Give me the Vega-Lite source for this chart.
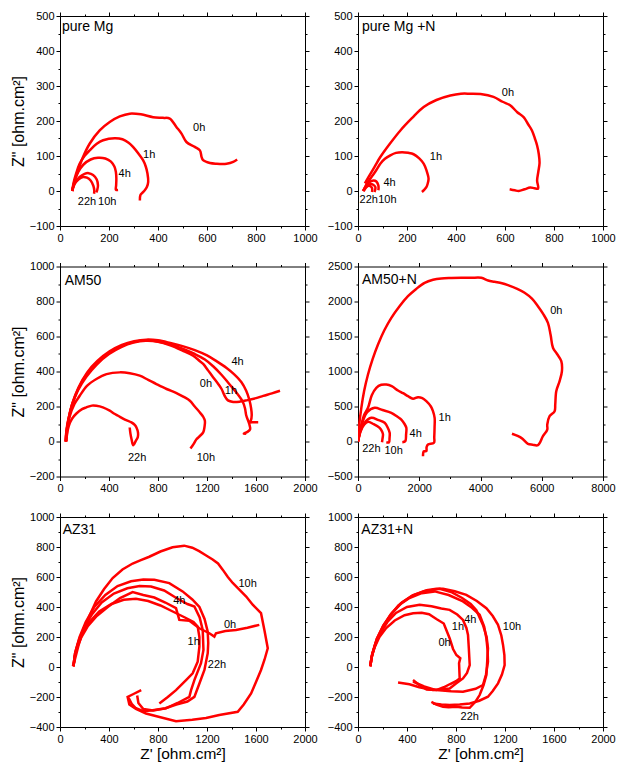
{
"$schema":"https://vega.github.io/schema/vega-lite/v6.json",
"padding":{"left":10,"top":10,"right":2,"bottom":2},
"background":"white",
"config":{"view":{"stroke":null},"font":"Liberation Sans",
 "axis":{"labelFont":"Liberation Sans","labelFontSize":11,"labelColor":"black","tickColor":"black","domainColor":"black","tickSize":4,"labelPadding":2,"grid":false,"titleFont":"Liberation Sans","titleFontWeight":"normal","titleColor":"black","labelFlush":false,"labelOverlap":false,"format":"d"},
 "text":{"font":"Liberation Sans","color":"black"}},
"datasets":{
"c":[
{"p":"A","s":"0h","x":50,"y":0},{"p":"A","s":"0h","x":60,"y":30},{"p":"A","s":"0h","x":74,"y":59},{"p":"A","s":"0h","x":94,"y":97},{"p":"A","s":"0h","x":121,"y":135},{"p":"A","s":"0h","x":162,"y":173},{"p":"A","s":"0h","x":203,"y":197},{"p":"A","s":"0h","x":244,"y":213},{"p":"A","s":"0h","x":285,"y":221},{"p":"A","s":"0h","x":330,"y":219},{"p":"A","s":"0h","x":380,"y":211},{"p":"A","s":"0h","x":420,"y":209},{"p":"A","s":"0h","x":448,"y":207},{"p":"A","s":"0h","x":475,"y":183},{"p":"A","s":"0h","x":496,"y":164},{"p":"A","s":"0h","x":516,"y":140},{"p":"A","s":"0h","x":550,"y":126},{"p":"A","s":"0h","x":571,"y":116},{"p":"A","s":"0h","x":578,"y":97},{"p":"A","s":"0h","x":584,"y":88},{"p":"A","s":"0h","x":612,"y":80},{"p":"A","s":"0h","x":639,"y":78},{"p":"A","s":"0h","x":680,"y":78},{"p":"A","s":"0h","x":707,"y":83},{"p":"A","s":"0h","x":723,"y":90},
{"p":"A","s":"1h","x":50,"y":0},{"p":"A","s":"1h","x":56,"y":25},{"p":"A","s":"1h","x":66,"y":50},{"p":"A","s":"1h","x":80,"y":78},{"p":"A","s":"1h","x":100,"y":100},{"p":"A","s":"1h","x":121,"y":116},{"p":"A","s":"1h","x":150,"y":135},{"p":"A","s":"1h","x":176,"y":145},{"p":"A","s":"1h","x":223,"y":151},{"p":"A","s":"1h","x":255,"y":148},{"p":"A","s":"1h","x":280,"y":138},{"p":"A","s":"1h","x":298,"y":126},{"p":"A","s":"1h","x":320,"y":107},{"p":"A","s":"1h","x":339,"y":88},{"p":"A","s":"1h","x":350,"y":70},{"p":"A","s":"1h","x":357,"y":50},{"p":"A","s":"1h","x":360,"y":26},{"p":"A","s":"1h","x":355,"y":12},{"p":"A","s":"1h","x":346,"y":2},{"p":"A","s":"1h","x":335,"y":-6},{"p":"A","s":"1h","x":328,"y":-12},{"p":"A","s":"1h","x":326,"y":-27},
{"p":"A","s":"4h","x":50,"y":0},{"p":"A","s":"4h","x":58,"y":25},{"p":"A","s":"4h","x":74,"y":54},{"p":"A","s":"4h","x":95,"y":75},{"p":"A","s":"4h","x":125,"y":90},{"p":"A","s":"4h","x":155,"y":95},{"p":"A","s":"4h","x":185,"y":93},{"p":"A","s":"4h","x":208,"y":84},{"p":"A","s":"4h","x":222,"y":70},{"p":"A","s":"4h","x":228,"y":55},{"p":"A","s":"4h","x":230,"y":35},{"p":"A","s":"4h","x":229,"y":15},{"p":"A","s":"4h","x":228,"y":4},{"p":"A","s":"4h","x":237,"y":3},
{"p":"A","s":"10h","x":50,"y":0},{"p":"A","s":"10h","x":60,"y":22},{"p":"A","s":"10h","x":80,"y":40},{"p":"A","s":"10h","x":100,"y":49},{"p":"A","s":"10h","x":117,"y":51},{"p":"A","s":"10h","x":135,"y":46},{"p":"A","s":"10h","x":150,"y":33},{"p":"A","s":"10h","x":155,"y":16},{"p":"A","s":"10h","x":152,"y":3},{"p":"A","s":"10h","x":148,"y":-4},
{"p":"A","s":"22h","x":50,"y":0},{"p":"A","s":"22h","x":58,"y":18},{"p":"A","s":"22h","x":75,"y":33},{"p":"A","s":"22h","x":94,"y":40},{"p":"A","s":"22h","x":110,"y":38},{"p":"A","s":"22h","x":125,"y":30},{"p":"A","s":"22h","x":136,"y":15},{"p":"A","s":"22h","x":140,"y":2},{"p":"A","s":"22h","x":139,"y":-8},
{"p":"B","s":"0h","x":28,"y":22},{"p":"B","s":"0h","x":50,"y":48},{"p":"B","s":"0h","x":70,"y":72},{"p":"B","s":"0h","x":91,"y":97},{"p":"B","s":"0h","x":130,"y":135},{"p":"B","s":"0h","x":173,"y":173},{"p":"B","s":"0h","x":220,"y":208},{"p":"B","s":"0h","x":268,"y":240},{"p":"B","s":"0h","x":320,"y":260},{"p":"B","s":"0h","x":377,"y":273},{"p":"B","s":"0h","x":420,"y":278},{"p":"B","s":"0h","x":458,"y":278},{"p":"B","s":"0h","x":500,"y":277},{"p":"B","s":"0h","x":553,"y":269},{"p":"B","s":"0h","x":590,"y":255},{"p":"B","s":"0h","x":621,"y":245},{"p":"B","s":"0h","x":650,"y":225},{"p":"B","s":"0h","x":676,"y":211},{"p":"B","s":"0h","x":695,"y":190},{"p":"B","s":"0h","x":710,"y":173},{"p":"B","s":"0h","x":722,"y":150},{"p":"B","s":"0h","x":731,"y":130},{"p":"B","s":"0h","x":738,"y":105},{"p":"B","s":"0h","x":741,"y":80},{"p":"B","s":"0h","x":736,"y":55},{"p":"B","s":"0h","x":731,"y":30},{"p":"B","s":"0h","x":735,"y":7},{"p":"B","s":"0h","x":720,"y":8},{"p":"B","s":"0h","x":703,"y":10},{"p":"B","s":"0h","x":680,"y":5},{"p":"B","s":"0h","x":656,"y":0},{"p":"B","s":"0h","x":640,"y":2},{"p":"B","s":"0h","x":619,"y":5},
{"p":"B","s":"1h","x":22,"y":0},{"p":"B","s":"1h","x":35,"y":20},{"p":"B","s":"1h","x":55,"y":40},{"p":"B","s":"1h","x":75,"y":60},{"p":"B","s":"1h","x":91,"y":78},{"p":"B","s":"1h","x":110,"y":92},{"p":"B","s":"1h","x":132,"y":102},{"p":"B","s":"1h","x":155,"y":109},{"p":"B","s":"1h","x":180,"y":111},{"p":"B","s":"1h","x":205,"y":109},{"p":"B","s":"1h","x":227,"y":105},{"p":"B","s":"1h","x":250,"y":93},{"p":"B","s":"1h","x":268,"y":78},{"p":"B","s":"1h","x":280,"y":58},{"p":"B","s":"1h","x":288,"y":35},{"p":"B","s":"1h","x":284,"y":20},{"p":"B","s":"1h","x":279,"y":11},{"p":"B","s":"1h","x":270,"y":3},{"p":"B","s":"1h","x":261,"y":-3},
{"p":"B","s":"4h","x":23,"y":0},{"p":"B","s":"4h","x":30,"y":12},{"p":"B","s":"4h","x":45,"y":25},{"p":"B","s":"4h","x":64,"y":30},{"p":"B","s":"4h","x":75,"y":27},{"p":"B","s":"4h","x":83,"y":16},{"p":"B","s":"4h","x":84,"y":8},{"p":"B","s":"4h","x":83,"y":2},
{"p":"B","s":"10h","x":23,"y":0},{"p":"B","s":"10h","x":35,"y":12},{"p":"B","s":"10h","x":50,"y":20},{"p":"B","s":"10h","x":62,"y":18},{"p":"B","s":"10h","x":71,"y":11},{"p":"B","s":"10h","x":70,"y":3},{"p":"B","s":"10h","x":67,"y":-3},
{"p":"B","s":"22h","x":20,"y":0},{"p":"B","s":"22h","x":28,"y":8},{"p":"B","s":"22h","x":39,"y":14},{"p":"B","s":"22h","x":50,"y":14},{"p":"B","s":"22h","x":57,"y":9},{"p":"B","s":"22h","x":58,"y":2},{"p":"B","s":"22h","x":57,"y":-3},
{"p":"C","s":"0h","x":46,"y":0},{"p":"C","s":"0h","x":52,"y":60},{"p":"C","s":"0h","x":66,"y":120},{"p":"C","s":"0h","x":95,"y":200},{"p":"C","s":"0h","x":145,"y":290},{"p":"C","s":"0h","x":215,"y":370},{"p":"C","s":"0h","x":300,"y":440},{"p":"C","s":"0h","x":400,"y":500},{"p":"C","s":"0h","x":500,"y":540},{"p":"C","s":"0h","x":600,"y":565},{"p":"C","s":"0h","x":700,"y":575},{"p":"C","s":"0h","x":800,"y":570},{"p":"C","s":"0h","x":900,"y":550},{"p":"C","s":"0h","x":1000,"y":520},{"p":"C","s":"0h","x":1087,"y":490},{"p":"C","s":"0h","x":1140,"y":460},{"p":"C","s":"0h","x":1169,"y":443},{"p":"C","s":"0h","x":1210,"y":405},{"p":"C","s":"0h","x":1251,"y":366},{"p":"C","s":"0h","x":1290,"y":330},{"p":"C","s":"0h","x":1319,"y":300},{"p":"C","s":"0h","x":1345,"y":260},{"p":"C","s":"0h","x":1371,"y":235},{"p":"C","s":"0h","x":1414,"y":226},{"p":"C","s":"0h","x":1470,"y":228},{"p":"C","s":"0h","x":1523,"y":235},{"p":"C","s":"0h","x":1600,"y":248},{"p":"C","s":"0h","x":1659,"y":261},{"p":"C","s":"0h","x":1730,"y":275},{"p":"C","s":"0h","x":1796,"y":290},
{"p":"C","s":"1h","x":46,"y":0},{"p":"C","s":"1h","x":54,"y":60},{"p":"C","s":"1h","x":70,"y":130},{"p":"C","s":"1h","x":98,"y":210},{"p":"C","s":"1h","x":148,"y":300},{"p":"C","s":"1h","x":218,"y":385},{"p":"C","s":"1h","x":300,"y":450},{"p":"C","s":"1h","x":400,"y":505},{"p":"C","s":"1h","x":500,"y":545},{"p":"C","s":"1h","x":600,"y":568},{"p":"C","s":"1h","x":700,"y":578},{"p":"C","s":"1h","x":800,"y":572},{"p":"C","s":"1h","x":900,"y":555},{"p":"C","s":"1h","x":1000,"y":530},{"p":"C","s":"1h","x":1100,"y":500},{"p":"C","s":"1h","x":1180,"y":470},{"p":"C","s":"1h","x":1250,"y":430},{"p":"C","s":"1h","x":1320,"y":380},{"p":"C","s":"1h","x":1380,"y":330},{"p":"C","s":"1h","x":1440,"y":280},{"p":"C","s":"1h","x":1490,"y":230},{"p":"C","s":"1h","x":1510,"y":190},{"p":"C","s":"1h","x":1520,"y":150},{"p":"C","s":"1h","x":1545,"y":100},{"p":"C","s":"1h","x":1552,"y":70},{"p":"C","s":"1h","x":1530,"y":55},{"p":"C","s":"1h","x":1500,"y":45},{"p":"C","s":"1h","x":1520,"y":45},
{"p":"C","s":"4h","x":46,"y":0},{"p":"C","s":"4h","x":56,"y":70},{"p":"C","s":"4h","x":74,"y":140},{"p":"C","s":"4h","x":102,"y":220},{"p":"C","s":"4h","x":152,"y":310},{"p":"C","s":"4h","x":222,"y":395},{"p":"C","s":"4h","x":305,"y":460},{"p":"C","s":"4h","x":405,"y":515},{"p":"C","s":"4h","x":505,"y":552},{"p":"C","s":"4h","x":605,"y":573},{"p":"C","s":"4h","x":705,"y":582},{"p":"C","s":"4h","x":800,"y":578},{"p":"C","s":"4h","x":900,"y":563},{"p":"C","s":"4h","x":1000,"y":545},{"p":"C","s":"4h","x":1100,"y":522},{"p":"C","s":"4h","x":1200,"y":492},{"p":"C","s":"4h","x":1280,"y":458},{"p":"C","s":"4h","x":1360,"y":420},{"p":"C","s":"4h","x":1420,"y":385},{"p":"C","s":"4h","x":1480,"y":340},{"p":"C","s":"4h","x":1520,"y":290},{"p":"C","s":"4h","x":1545,"y":240},{"p":"C","s":"4h","x":1560,"y":190},{"p":"C","s":"4h","x":1565,"y":150},{"p":"C","s":"4h","x":1558,"y":120},{"p":"C","s":"4h","x":1545,"y":110},{"p":"C","s":"4h","x":1580,"y":110},{"p":"C","s":"4h","x":1618,"y":110},
{"p":"C","s":"10h","x":52,"y":0},{"p":"C","s":"10h","x":58,"y":60},{"p":"C","s":"10h","x":78,"y":140},{"p":"C","s":"10h","x":118,"y":215},{"p":"C","s":"10h","x":161,"y":261},{"p":"C","s":"10h","x":220,"y":318},{"p":"C","s":"10h","x":297,"y":357},{"p":"C","s":"10h","x":380,"y":385},{"p":"C","s":"10h","x":488,"y":395},{"p":"C","s":"10h","x":570,"y":390},{"p":"C","s":"10h","x":651,"y":376},{"p":"C","s":"10h","x":720,"y":352},{"p":"C","s":"10h","x":787,"y":328},{"p":"C","s":"10h","x":870,"y":300},{"p":"C","s":"10h","x":951,"y":277},{"p":"C","s":"10h","x":1010,"y":255},{"p":"C","s":"10h","x":1060,"y":233},{"p":"C","s":"10h","x":1100,"y":200},{"p":"C","s":"10h","x":1142,"y":166},{"p":"C","s":"10h","x":1170,"y":140},{"p":"C","s":"10h","x":1183,"y":118},{"p":"C","s":"10h","x":1180,"y":85},{"p":"C","s":"10h","x":1169,"y":52},{"p":"C","s":"10h","x":1140,"y":30},{"p":"C","s":"10h","x":1114,"y":13},{"p":"C","s":"10h","x":1090,"y":-15},{"p":"C","s":"10h","x":1065,"y":-40},
{"p":"C","s":"22h","x":52,"y":0},{"p":"C","s":"22h","x":57,"y":40},{"p":"C","s":"22h","x":72,"y":90},{"p":"C","s":"22h","x":98,"y":130},{"p":"C","s":"22h","x":134,"y":160},{"p":"C","s":"22h","x":180,"y":185},{"p":"C","s":"22h","x":215,"y":195},{"p":"C","s":"22h","x":260,"y":205},{"p":"C","s":"22h","x":297,"y":204},{"p":"C","s":"22h","x":350,"y":195},{"p":"C","s":"22h","x":406,"y":176},{"p":"C","s":"22h","x":440,"y":160},{"p":"C","s":"22h","x":474,"y":147},{"p":"C","s":"22h","x":530,"y":125},{"p":"C","s":"22h","x":583,"y":109},{"p":"C","s":"22h","x":610,"y":95},{"p":"C","s":"22h","x":624,"y":80},{"p":"C","s":"22h","x":637,"y":50},{"p":"C","s":"22h","x":635,"y":25},{"p":"C","s":"22h","x":620,"y":5},{"p":"C","s":"22h","x":597,"y":-21},{"p":"C","s":"22h","x":585,"y":10},{"p":"C","s":"22h","x":575,"y":45},{"p":"C","s":"22h","x":569,"y":80},
{"p":"D","s":"0h","x":0,"y":0},{"p":"D","s":"0h","x":30,"y":200},{"p":"D","s":"0h","x":109,"y":481},{"p":"D","s":"0h","x":200,"y":720},{"p":"D","s":"0h","x":326,"y":957},{"p":"D","s":"0h","x":480,"y":1180},{"p":"D","s":"0h","x":653,"y":1386},{"p":"D","s":"0h","x":860,"y":1590},{"p":"D","s":"0h","x":1088,"y":1767},{"p":"D","s":"0h","x":1350,"y":1930},{"p":"D","s":"0h","x":1632,"y":2076},{"p":"D","s":"0h","x":1900,"y":2180},{"p":"D","s":"0h","x":2176,"y":2267},{"p":"D","s":"0h","x":2450,"y":2310},{"p":"D","s":"0h","x":2720,"y":2329},{"p":"D","s":"0h","x":3050,"y":2335},{"p":"D","s":"0h","x":3373,"y":2338},{"p":"D","s":"0h","x":3700,"y":2338},{"p":"D","s":"0h","x":4026,"y":2338},{"p":"D","s":"0h","x":4250,"y":2300},{"p":"D","s":"0h","x":4461,"y":2281},{"p":"D","s":"0h","x":4700,"y":2260},{"p":"D","s":"0h","x":4896,"y":2233},{"p":"D","s":"0h","x":5200,"y":2180},{"p":"D","s":"0h","x":5440,"y":2124},{"p":"D","s":"0h","x":5680,"y":2040},{"p":"D","s":"0h","x":5875,"y":1933},{"p":"D","s":"0h","x":6050,"y":1820},{"p":"D","s":"0h","x":6202,"y":1695},{"p":"D","s":"0h","x":6290,"y":1520},{"p":"D","s":"0h","x":6366,"y":1338},{"p":"D","s":"0h","x":6500,"y":1250},{"p":"D","s":"0h","x":6638,"y":1148},{"p":"D","s":"0h","x":6659,"y":1005},{"p":"D","s":"0h","x":6583,"y":862},{"p":"D","s":"0h","x":6474,"y":719},{"p":"D","s":"0h","x":6441,"y":529},{"p":"D","s":"0h","x":6420,"y":433},{"p":"D","s":"0h","x":6256,"y":362},{"p":"D","s":"0h","x":6180,"y":243},{"p":"D","s":"0h","x":6180,"y":171},{"p":"D","s":"0h","x":6039,"y":76},{"p":"D","s":"0h","x":5875,"y":-52},{"p":"D","s":"0h","x":5700,"y":-45},{"p":"D","s":"0h","x":5549,"y":-33},{"p":"D","s":"0h","x":5332,"y":52},{"p":"D","s":"0h","x":5027,"y":110},
{"p":"D","s":"1h","x":0,"y":0},{"p":"D","s":"1h","x":100,"y":220},{"p":"D","s":"1h","x":200,"y":380},{"p":"D","s":"1h","x":326,"y":481},{"p":"D","s":"1h","x":450,"y":660},{"p":"D","s":"1h","x":598,"y":767},{"p":"D","s":"1h","x":760,"y":810},{"p":"D","s":"1h","x":925,"y":814},{"p":"D","s":"1h","x":1100,"y":790},{"p":"D","s":"1h","x":1306,"y":729},{"p":"D","s":"1h","x":1470,"y":690},{"p":"D","s":"1h","x":1632,"y":648},{"p":"D","s":"1h","x":1795,"y":610},{"p":"D","s":"1h","x":1958,"y":633},{"p":"D","s":"1h","x":2100,"y":620},{"p":"D","s":"1h","x":2231,"y":576},{"p":"D","s":"1h","x":2380,"y":500},{"p":"D","s":"1h","x":2448,"y":433},{"p":"D","s":"1h","x":2502,"y":338},{"p":"D","s":"1h","x":2500,"y":200},{"p":"D","s":"1h","x":2490,"y":60},{"p":"D","s":"1h","x":2480,"y":-19},{"p":"D","s":"1h","x":2285,"y":-43},{"p":"D","s":"1h","x":2240,"y":-80},{"p":"D","s":"1h","x":2231,"y":-138},{"p":"D","s":"1h","x":2150,"y":-140},{"p":"D","s":"1h","x":2122,"y":-210},
{"p":"D","s":"4h","x":0,"y":0},{"p":"D","s":"4h","x":60,"y":130},{"p":"D","s":"4h","x":150,"y":280},{"p":"D","s":"4h","x":300,"y":420},{"p":"D","s":"4h","x":544,"y":481},{"p":"D","s":"4h","x":800,"y":450},{"p":"D","s":"4h","x":1088,"y":410},{"p":"D","s":"4h","x":1300,"y":350},{"p":"D","s":"4h","x":1414,"y":314},{"p":"D","s":"4h","x":1520,"y":250},{"p":"D","s":"4h","x":1578,"y":195},{"p":"D","s":"4h","x":1570,"y":100},{"p":"D","s":"4h","x":1545,"y":5},{"p":"D","s":"4h","x":1447,"y":-10},
{"p":"D","s":"10h","x":0,"y":0},{"p":"D","s":"10h","x":80,"y":150},{"p":"D","s":"10h","x":200,"y":260},{"p":"D","s":"10h","x":435,"y":338},{"p":"D","s":"10h","x":650,"y":310},{"p":"D","s":"10h","x":871,"y":267},{"p":"D","s":"10h","x":980,"y":190},{"p":"D","s":"10h","x":1034,"y":124},{"p":"D","s":"10h","x":1030,"y":50},{"p":"D","s":"10h","x":1012,"y":-10},{"p":"D","s":"10h","x":925,"y":-10},
{"p":"D","s":"22h","x":0,"y":0},{"p":"D","s":"22h","x":80,"y":140},{"p":"D","s":"22h","x":200,"y":240},{"p":"D","s":"22h","x":326,"y":281},{"p":"D","s":"22h","x":500,"y":250},{"p":"D","s":"22h","x":707,"y":195},{"p":"D","s":"22h","x":790,"y":140},{"p":"D","s":"22h","x":816,"y":100},{"p":"D","s":"22h","x":800,"y":40},{"p":"D","s":"22h","x":784,"y":-10},
{"p":"E","s":"0h","x":110,"y":5},{"p":"E","s":"0h","x":118,"y":60},{"p":"E","s":"0h","x":140,"y":130},{"p":"E","s":"0h","x":175,"y":200},{"p":"E","s":"0h","x":225,"y":270},{"p":"E","s":"0h","x":300,"y":340},{"p":"E","s":"0h","x":390,"y":400},{"p":"E","s":"0h","x":490,"y":460},{"p":"E","s":"0h","x":593,"y":499},{"p":"E","s":"0h","x":680,"y":480},{"p":"E","s":"0h","x":770,"y":463},{"p":"E","s":"0h","x":860,"y":430},{"p":"E","s":"0h","x":947,"y":392},{"p":"E","s":"0h","x":974,"y":314},{"p":"E","s":"0h","x":1056,"y":308},{"p":"E","s":"0h","x":1137,"y":258},{"p":"E","s":"0h","x":1219,"y":225},{"p":"E","s":"0h","x":1260,"y":203},{"p":"E","s":"0h","x":1273,"y":225},{"p":"E","s":"0h","x":1350,"y":240},{"p":"E","s":"0h","x":1437,"y":247},{"p":"E","s":"0h","x":1530,"y":262},{"p":"E","s":"0h","x":1627,"y":281},
{"p":"E","s":"1h","x":110,"y":5},{"p":"E","s":"1h","x":120,"y":70},{"p":"E","s":"1h","x":145,"y":150},{"p":"E","s":"1h","x":185,"y":230},{"p":"E","s":"1h","x":240,"y":300},{"p":"E","s":"1h","x":320,"y":370},{"p":"E","s":"1h","x":420,"y":420},{"p":"E","s":"1h","x":520,"y":448},{"p":"E","s":"1h","x":620,"y":455},{"p":"E","s":"1h","x":720,"y":440},{"p":"E","s":"1h","x":820,"y":410},{"p":"E","s":"1h","x":920,"y":370},{"p":"E","s":"1h","x":1020,"y":330},{"p":"E","s":"1h","x":1090,"y":300},{"p":"E","s":"1h","x":1124,"y":270},{"p":"E","s":"1h","x":1138,"y":200},{"p":"E","s":"1h","x":1138,"y":136},{"p":"E","s":"1h","x":1124,"y":35},{"p":"E","s":"1h","x":1083,"y":-42},{"p":"E","s":"1h","x":1029,"y":-87},{"p":"E","s":"1h","x":947,"y":-154},{"p":"E","s":"1h","x":880,"y":-200},{"p":"E","s":"1h","x":811,"y":-243},
{"p":"E","s":"4h","x":110,"y":5},{"p":"E","s":"4h","x":122,"y":90},{"p":"E","s":"4h","x":155,"y":180},{"p":"E","s":"4h","x":200,"y":270},{"p":"E","s":"4h","x":260,"y":350},{"p":"E","s":"4h","x":340,"y":430},{"p":"E","s":"4h","x":440,"y":490},{"p":"E","s":"4h","x":550,"y":525},{"p":"E","s":"4h","x":650,"y":540},{"p":"E","s":"4h","x":743,"y":537},{"p":"E","s":"4h","x":850,"y":510},{"p":"E","s":"4h","x":950,"y":460},{"p":"E","s":"4h","x":1040,"y":420},{"p":"E","s":"4h","x":1097,"y":403},{"p":"E","s":"4h","x":1140,"y":330},{"p":"E","s":"4h","x":1165,"y":247},{"p":"E","s":"4h","x":1171,"y":114},{"p":"E","s":"4h","x":1151,"y":25},{"p":"E","s":"4h","x":1097,"y":-87},{"p":"E","s":"4h","x":1070,"y":-154},{"p":"E","s":"4h","x":1056,"y":-199},{"p":"E","s":"4h","x":960,"y":-240},{"p":"E","s":"4h","x":865,"y":-276},{"p":"E","s":"4h","x":760,"y":-290},{"p":"E","s":"4h","x":680,"y":-280},{"p":"E","s":"4h","x":640,"y":-240},{"p":"E","s":"4h","x":630,"y":-190},
{"p":"E","s":"22h","x":110,"y":5},{"p":"E","s":"22h","x":125,"y":100},{"p":"E","s":"22h","x":160,"y":200},{"p":"E","s":"22h","x":210,"y":300},{"p":"E","s":"22h","x":280,"y":400},{"p":"E","s":"22h","x":370,"y":480},{"p":"E","s":"22h","x":470,"y":540},{"p":"E","s":"22h","x":580,"y":572},{"p":"E","s":"22h","x":680,"y":583},{"p":"E","s":"22h","x":770,"y":581},{"p":"E","s":"22h","x":892,"y":559},{"p":"E","s":"22h","x":1001,"y":504},{"p":"E","s":"22h","x":1080,"y":450},{"p":"E","s":"22h","x":1138,"y":400},{"p":"E","s":"22h","x":1180,"y":320},{"p":"E","s":"22h","x":1206,"y":236},{"p":"E","s":"22h","x":1210,"y":160},{"p":"E","s":"22h","x":1206,"y":92},{"p":"E","s":"22h","x":1179,"y":-20},{"p":"E","s":"22h","x":1138,"y":-110},{"p":"E","s":"22h","x":1097,"y":-199},{"p":"E","s":"22h","x":1040,"y":-230},{"p":"E","s":"22h","x":950,"y":-250},{"p":"E","s":"22h","x":860,"y":-275},{"p":"E","s":"22h","x":757,"y":-288},{"p":"E","s":"22h","x":680,"y":-295},{"p":"E","s":"22h","x":620,"y":-275},{"p":"E","s":"22h","x":585,"y":-245},{"p":"E","s":"22h","x":560,"y":-205},
{"p":"E","s":"10h","x":105,"y":5},{"p":"E","s":"10h","x":117,"y":36},{"p":"E","s":"10h","x":150,"y":140},{"p":"E","s":"10h","x":185,"y":236},{"p":"E","s":"10h","x":240,"y":340},{"p":"E","s":"10h","x":294,"y":437},{"p":"E","s":"10h","x":360,"y":520},{"p":"E","s":"10h","x":430,"y":593},{"p":"E","s":"10h","x":510,"y":650},{"p":"E","s":"10h","x":593,"y":690},{"p":"E","s":"10h","x":660,"y":712},{"p":"E","s":"10h","x":729,"y":735},{"p":"E","s":"10h","x":820,"y":770},{"p":"E","s":"10h","x":919,"y":798},{"p":"E","s":"10h","x":1014,"y":809},{"p":"E","s":"10h","x":1080,"y":795},{"p":"E","s":"10h","x":1136,"y":772},{"p":"E","s":"10h","x":1190,"y":745},{"p":"E","s":"10h","x":1246,"y":717},{"p":"E","s":"10h","x":1290,"y":690},{"p":"E","s":"10h","x":1328,"y":649},{"p":"E","s":"10h","x":1370,"y":600},{"p":"E","s":"10h","x":1410,"y":560},{"p":"E","s":"10h","x":1464,"y":516},{"p":"E","s":"10h","x":1520,"y":470},{"p":"E","s":"10h","x":1573,"y":415},{"p":"E","s":"10h","x":1641,"y":359},{"p":"E","s":"10h","x":1670,"y":240},{"p":"E","s":"10h","x":1696,"y":125},{"p":"E","s":"10h","x":1670,"y":50},{"p":"E","s":"10h","x":1641,"y":-20},{"p":"E","s":"10h","x":1600,"y":-100},{"p":"E","s":"10h","x":1560,"y":-176},{"p":"E","s":"10h","x":1500,"y":-250},{"p":"E","s":"10h","x":1451,"y":-299},{"p":"E","s":"10h","x":1300,"y":-320},{"p":"E","s":"10h","x":1192,"y":-340},{"p":"E","s":"10h","x":1080,"y":-352},{"p":"E","s":"10h","x":947,"y":-361},{"p":"E","s":"10h","x":820,"y":-335},{"p":"E","s":"10h","x":702,"y":-310},{"p":"E","s":"10h","x":620,"y":-280},{"p":"E","s":"10h","x":566,"y":-250},{"p":"E","s":"10h","x":552,"y":-199},{"p":"E","s":"10h","x":600,"y":-180},{"p":"E","s":"10h","x":663,"y":-154},
{"p":"F","s":"0h","x":100,"y":5},{"p":"F","s":"0h","x":110,"y":60},{"p":"F","s":"0h","x":135,"y":130},{"p":"F","s":"0h","x":175,"y":200},{"p":"F","s":"0h","x":230,"y":260},{"p":"F","s":"0h","x":300,"y":310},{"p":"F","s":"0h","x":380,"y":345},{"p":"F","s":"0h","x":450,"y":358},{"p":"F","s":"0h","x":520,"y":362},{"p":"F","s":"0h","x":580,"y":352},{"p":"F","s":"0h","x":640,"y":320},{"p":"F","s":"0h","x":700,"y":290},{"p":"F","s":"0h","x":748,"y":192},{"p":"F","s":"0h","x":776,"y":120},{"p":"F","s":"0h","x":803,"y":80},{"p":"F","s":"0h","x":835,"y":58},{"p":"F","s":"0h","x":825,"y":25},{"p":"F","s":"0h","x":830,"y":-76},{"p":"F","s":"0h","x":800,"y":-95},{"p":"F","s":"0h","x":748,"y":-115},{"p":"F","s":"0h","x":700,"y":-135},{"p":"F","s":"0h","x":639,"y":-154},{"p":"F","s":"0h","x":560,"y":-150},{"p":"F","s":"0h","x":500,"y":-120},{"p":"F","s":"0h","x":449,"y":-87},
{"p":"F","s":"1h","x":100,"y":5},{"p":"F","s":"1h","x":112,"y":70},{"p":"F","s":"1h","x":140,"y":150},{"p":"F","s":"1h","x":185,"y":230},{"p":"F","s":"1h","x":240,"y":300},{"p":"F","s":"1h","x":310,"y":360},{"p":"F","s":"1h","x":400,"y":400},{"p":"F","s":"1h","x":503,"y":415},{"p":"F","s":"1h","x":600,"y":405},{"p":"F","s":"1h","x":680,"y":390},{"p":"F","s":"1h","x":748,"y":381},{"p":"F","s":"1h","x":810,"y":350},{"p":"F","s":"1h","x":857,"y":314},{"p":"F","s":"1h","x":885,"y":260},{"p":"F","s":"1h","x":898,"y":214},{"p":"F","s":"1h","x":905,"y":120},{"p":"F","s":"1h","x":912,"y":13},{"p":"F","s":"1h","x":890,"y":-40},{"p":"F","s":"1h","x":857,"y":-76},{"p":"F","s":"1h","x":800,"y":-110},{"p":"F","s":"1h","x":748,"y":-143},{"p":"F","s":"1h","x":680,"y":-150},{"p":"F","s":"1h","x":612,"y":-154},{"p":"F","s":"1h","x":500,"y":-135},{"p":"F","s":"1h","x":420,"y":-115},{"p":"F","s":"1h","x":327,"y":-103},
{"p":"F","s":"4h","x":100,"y":5},{"p":"F","s":"4h","x":115,"y":80},{"p":"F","s":"4h","x":150,"y":170},{"p":"F","s":"4h","x":200,"y":260},{"p":"F","s":"4h","x":260,"y":340},{"p":"F","s":"4h","x":330,"y":410},{"p":"F","s":"4h","x":420,"y":460},{"p":"F","s":"4h","x":520,"y":492},{"p":"F","s":"4h","x":626,"y":504},{"p":"F","s":"4h","x":740,"y":480},{"p":"F","s":"4h","x":857,"y":437},{"p":"F","s":"4h","x":930,"y":395},{"p":"F","s":"4h","x":993,"y":348},{"p":"F","s":"4h","x":1030,"y":270},{"p":"F","s":"4h","x":1048,"y":192},{"p":"F","s":"4h","x":1058,"y":110},{"p":"F","s":"4h","x":1061,"y":36},{"p":"F","s":"4h","x":1045,"y":-50},{"p":"F","s":"4h","x":1020,"y":-120},{"p":"F","s":"4h","x":960,"y":-145},{"p":"F","s":"4h","x":857,"y":-165},{"p":"F","s":"4h","x":760,"y":-162},{"p":"F","s":"4h","x":639,"y":-154},{"p":"F","s":"4h","x":540,"y":-130},{"p":"F","s":"4h","x":449,"y":-98},
{"p":"F","s":"10h","x":100,"y":5},{"p":"F","s":"10h","x":117,"y":90},{"p":"F","s":"10h","x":155,"y":190},{"p":"F","s":"10h","x":210,"y":280},{"p":"F","s":"10h","x":280,"y":360},{"p":"F","s":"10h","x":360,"y":430},{"p":"F","s":"10h","x":450,"y":480},{"p":"F","s":"10h","x":560,"y":512},{"p":"F","s":"10h","x":640,"y":522},{"p":"F","s":"10h","x":694,"y":521},{"p":"F","s":"10h","x":790,"y":505},{"p":"F","s":"10h","x":884,"y":481},{"p":"F","s":"10h","x":970,"y":440},{"p":"F","s":"10h","x":1048,"y":392},{"p":"F","s":"10h","x":1100,"y":340},{"p":"F","s":"10h","x":1143,"y":281},{"p":"F","s":"10h","x":1170,"y":210},{"p":"F","s":"10h","x":1184,"y":147},{"p":"F","s":"10h","x":1195,"y":80},{"p":"F","s":"10h","x":1197,"y":13},{"p":"F","s":"10h","x":1175,"y":-50},{"p":"F","s":"10h","x":1143,"y":-109},{"p":"F","s":"10h","x":1100,"y":-160},{"p":"F","s":"10h","x":1061,"y":-198},{"p":"F","s":"10h","x":990,"y":-225},{"p":"F","s":"10h","x":912,"y":-243},{"p":"F","s":"10h","x":830,"y":-250},{"p":"F","s":"10h","x":748,"y":-254},{"p":"F","s":"10h","x":680,"y":-250},{"p":"F","s":"10h","x":612,"y":-243},
{"p":"F","s":"22h","x":100,"y":5},{"p":"F","s":"22h","x":116,"y":85},{"p":"F","s":"22h","x":152,"y":185},{"p":"F","s":"22h","x":205,"y":275},{"p":"F","s":"22h","x":270,"y":355},{"p":"F","s":"22h","x":350,"y":425},{"p":"F","s":"22h","x":440,"y":475},{"p":"F","s":"22h","x":540,"y":505},{"p":"F","s":"22h","x":620,"y":515},{"p":"F","s":"22h","x":667,"y":521},{"p":"F","s":"22h","x":760,"y":500},{"p":"F","s":"22h","x":850,"y":460},{"p":"F","s":"22h","x":920,"y":420},{"p":"F","s":"22h","x":966,"y":379},{"p":"F","s":"22h","x":1020,"y":280},{"p":"F","s":"22h","x":1050,"y":200},{"p":"F","s":"22h","x":1061,"y":125},{"p":"F","s":"22h","x":1055,"y":40},{"p":"F","s":"22h","x":1048,"y":-53},{"p":"F","s":"22h","x":1025,"y":-120},{"p":"F","s":"22h","x":993,"y":-187},{"p":"F","s":"22h","x":960,"y":-230},{"p":"F","s":"22h","x":912,"y":-272},{"p":"F","s":"22h","x":850,"y":-270},{"p":"F","s":"22h","x":803,"y":-265},{"p":"F","s":"22h","x":740,"y":-268},{"p":"F","s":"22h","x":694,"y":-265},{"p":"F","s":"22h","x":640,"y":-250},{"p":"F","s":"22h","x":599,"y":-232}
],
"t":[
{"p":"A","l":"0h","x":568,"y":180},{"p":"A","l":"1h","x":364,"y":102},{"p":"A","l":"4h","x":264,"y":50},{"p":"A","l":"22h","x":110,"y":-31},{"p":"A","l":"10h","x":193,"y":-31},
{"p":"B","l":"0h","x":612,"y":281},{"p":"B","l":"1h","x":318,"y":97},{"p":"B","l":"4h","x":129,"y":23},{"p":"B","l":"22h","x":44,"y":-25},{"p":"B","l":"10h","x":120,"y":-25},
{"p":"C","l":"4h","x":1450,"y":452},{"p":"C","l":"0h","x":1191,"y":328},{"p":"C","l":"1h","x":1395,"y":290},{"p":"C","l":"22h","x":630,"y":-97},{"p":"C","l":"10h","x":1191,"y":-97},
{"p":"D","l":"0h","x":6474,"y":1862},{"p":"D","l":"1h","x":2829,"y":329},{"p":"D","l":"4h","x":1883,"y":110},{"p":"D","l":"22h","x":435,"y":-114},{"p":"D","l":"10h","x":1164,"y":-129},
{"p":"E","l":"10h","x":1532,"y":555},{"p":"E","l":"4h","x":974,"y":437},{"p":"E","l":"0h","x":1388,"y":281},{"p":"E","l":"1h","x":1091,"y":169},{"p":"E","l":"22h","x":1282,"y":13},
{"p":"F","l":"0h","x":707,"y":158},{"p":"F","l":"1h","x":816,"y":270},{"p":"F","l":"4h","x":917,"y":314},{"p":"F","l":"10h","x":1257,"y":265},{"p":"F","l":"22h","x":912,"y":-332}
],
"n":[
{"p":"A","l":"pure Mg","x":8,"y":470},{"p":"B","l":"pure Mg +N","x":16,"y":470},{"p":"C","l":"AM50","x":38,"y":920},{"p":"D","l":"AM50+N","x":130,"y":2314},{"p":"E","l":"AZ31","x":22,"y":916},{"p":"F","l":"AZ31+N","x":27,"y":916}
]},
"bounds":"flush",
"columns":2,
"spacing":{"row":40.5,"column":53},
"concat":[
 {"width":245,"height":210,"resolve":{"axis":{"x":"independent","y":"independent"}},"layer":[
  {"data":{"name":"c"},"transform":[{"filter":"datum.p==='A'"}],"mark":{"type":"line","color":"#ff0000","strokeWidth":2.5,"interpolate":"catmull-rom","clip":true},
   "encoding":{"x":{"field":"x","type":"quantitative","scale":{"domain":[0,1000],"nice":false,"zero":false},"axis":{"orient":"bottom","title":null,"values":[0,100,200,300,400,500,600,700,800,900,1000],"labelExpr":"datum.value % 200 === 0 ? datum.label : ''","tickSize":{"condition":{"test":"datum.value % 200 !== 0","value":2},"value":4}}},
   "y":{"field":"y","type":"quantitative","scale":{"domain":[-100,500],"nice":false,"zero":false},"axis":{"orient":"left","title":"Z\" [ohm.cm²]","titleFontSize":16,"titlePadding":3,"values":[-100,-50,0,50,100,150,200,250,300,350,400,450,500],"labelExpr":"datum.value % 100 === 0 ? datum.label : ''","tickSize":{"condition":{"test":"datum.value % 100 !== 0","value":2},"value":4}}},
   "detail":{"field":"s"},"order":{"value":null}}},
  {"data":{"name":"t"},"transform":[{"filter":"datum.p==='A'"}],"mark":{"type":"text","fontSize":11,"color":"black"},
   "encoding":{"x":{"field":"x","type":"quantitative","scale":{"domain":[0,1000],"nice":false,"zero":false},"axis":{"orient":"top","title":null,"labels":false,"values":[0,100,200,300,400,500,600,700,800,900,1000],"tickSize":{"condition":{"test":"datum.value % 200 !== 0","value":2},"value":4}}},
   "y":{"field":"y","type":"quantitative","scale":{"domain":[-100,500],"nice":false,"zero":false},"axis":{"orient":"right","title":null,"labels":false,"values":[-100,-50,0,50,100,150,200,250,300,350,400,450,500],"tickSize":{"condition":{"test":"datum.value % 100 !== 0","value":2},"value":4}}},
   "text":{"field":"l"}}},
  {"data":{"name":"n"},"transform":[{"filter":"datum.p==='A'"}],"mark":{"type":"text","fontSize":14,"align":"left","color":"black"},
   "encoding":{"x":{"field":"x","type":"quantitative","axis":null},"y":{"field":"y","type":"quantitative","axis":null},"text":{"field":"l"}}}
 ]},
 {"width":245,"height":210,"resolve":{"axis":{"x":"independent","y":"independent"}},"layer":[
  {"data":{"name":"c"},"transform":[{"filter":"datum.p==='B'"}],"mark":{"type":"line","color":"#ff0000","strokeWidth":2.5,"interpolate":"catmull-rom","clip":true},
   "encoding":{"x":{"field":"x","type":"quantitative","scale":{"domain":[0,1000],"nice":false,"zero":false},"axis":{"orient":"bottom","title":null,"values":[0,100,200,300,400,500,600,700,800,900,1000],"labelExpr":"datum.value % 200 === 0 ? datum.label : ''","tickSize":{"condition":{"test":"datum.value % 200 !== 0","value":2},"value":4}}},
   "y":{"field":"y","type":"quantitative","scale":{"domain":[-100,500],"nice":false,"zero":false},"axis":{"orient":"left","title":null,"values":[-100,-50,0,50,100,150,200,250,300,350,400,450,500],"labelExpr":"datum.value % 100 === 0 ? datum.label : ''","tickSize":{"condition":{"test":"datum.value % 100 !== 0","value":2},"value":4}}},
   "detail":{"field":"s"},"order":{"value":null}}},
  {"data":{"name":"t"},"transform":[{"filter":"datum.p==='B'"}],"mark":{"type":"text","fontSize":11,"color":"black"},
   "encoding":{"x":{"field":"x","type":"quantitative","scale":{"domain":[0,1000],"nice":false,"zero":false},"axis":{"orient":"top","title":null,"labels":false,"values":[0,100,200,300,400,500,600,700,800,900,1000],"tickSize":{"condition":{"test":"datum.value % 200 !== 0","value":2},"value":4}}},
   "y":{"field":"y","type":"quantitative","scale":{"domain":[-100,500],"nice":false,"zero":false},"axis":{"orient":"right","title":null,"labels":false,"values":[-100,-50,0,50,100,150,200,250,300,350,400,450,500],"tickSize":{"condition":{"test":"datum.value % 100 !== 0","value":2},"value":4}}},
   "text":{"field":"l"}}},
  {"data":{"name":"n"},"transform":[{"filter":"datum.p==='B'"}],"mark":{"type":"text","fontSize":14,"align":"left","color":"black"},
   "encoding":{"x":{"field":"x","type":"quantitative","axis":null},"y":{"field":"y","type":"quantitative","axis":null},"text":{"field":"l"}}}
 ]},
 {"width":245,"height":210,"resolve":{"axis":{"x":"independent","y":"independent"}},"layer":[
  {"data":{"name":"c"},"transform":[{"filter":"datum.p==='C'"}],"mark":{"type":"line","color":"#ff0000","strokeWidth":2.5,"interpolate":"catmull-rom","clip":true},
   "encoding":{"x":{"field":"x","type":"quantitative","scale":{"domain":[0,2000],"nice":false,"zero":false},"axis":{"orient":"bottom","title":null,"values":[0,200,400,600,800,1000,1200,1400,1600,1800,2000],"labelExpr":"datum.value % 400 === 0 ? datum.label : ''","tickSize":{"condition":{"test":"datum.value % 400 !== 0","value":2},"value":4}}},
   "y":{"field":"y","type":"quantitative","scale":{"domain":[-200,1000],"nice":false,"zero":false},"axis":{"orient":"left","title":"Z\" [ohm.cm²]","titleFontSize":16,"titlePadding":3,"values":[-200,-100,0,100,200,300,400,500,600,700,800,900,1000],"labelExpr":"datum.value % 200 === 0 ? datum.label : ''","tickSize":{"condition":{"test":"datum.value % 200 !== 0","value":2},"value":4}}},
   "detail":{"field":"s"},"order":{"value":null}}},
  {"data":{"name":"t"},"transform":[{"filter":"datum.p==='C'"}],"mark":{"type":"text","fontSize":11,"color":"black"},
   "encoding":{"x":{"field":"x","type":"quantitative","scale":{"domain":[0,2000],"nice":false,"zero":false},"axis":{"orient":"top","title":null,"labels":false,"values":[0,200,400,600,800,1000,1200,1400,1600,1800,2000],"tickSize":{"condition":{"test":"datum.value % 400 !== 0","value":2},"value":4}}},
   "y":{"field":"y","type":"quantitative","scale":{"domain":[-200,1000],"nice":false,"zero":false},"axis":{"orient":"right","title":null,"labels":false,"values":[-200,-100,0,100,200,300,400,500,600,700,800,900,1000],"tickSize":{"condition":{"test":"datum.value % 200 !== 0","value":2},"value":4}}},
   "text":{"field":"l"}}},
  {"data":{"name":"n"},"transform":[{"filter":"datum.p==='C'"}],"mark":{"type":"text","fontSize":14,"align":"left","color":"black"},
   "encoding":{"x":{"field":"x","type":"quantitative","axis":null},"y":{"field":"y","type":"quantitative","axis":null},"text":{"field":"l"}}}
 ]},
 {"width":245,"height":210,"resolve":{"axis":{"x":"independent","y":"independent"}},"layer":[
  {"data":{"name":"c"},"transform":[{"filter":"datum.p==='D'"}],"mark":{"type":"line","color":"#ff0000","strokeWidth":2.5,"interpolate":"catmull-rom","clip":true},
   "encoding":{"x":{"field":"x","type":"quantitative","scale":{"domain":[0,8000],"nice":false,"zero":false},"axis":{"orient":"bottom","title":null,"values":[0,1000,2000,3000,4000,5000,6000,7000,8000],"labelExpr":"datum.value % 2000 === 0 ? datum.label : ''","tickSize":{"condition":{"test":"datum.value % 2000 !== 0","value":2},"value":4}}},
   "y":{"field":"y","type":"quantitative","scale":{"domain":[-500,2500],"nice":false,"zero":false},"axis":{"orient":"left","title":null,"values":[-500,-250,0,250,500,750,1000,1250,1500,1750,2000,2250,2500],"labelExpr":"datum.value % 500 === 0 ? datum.label : ''","tickSize":{"condition":{"test":"datum.value % 500 !== 0","value":2},"value":4}}},
   "detail":{"field":"s"},"order":{"value":null}}},
  {"data":{"name":"t"},"transform":[{"filter":"datum.p==='D'"}],"mark":{"type":"text","fontSize":11,"color":"black"},
   "encoding":{"x":{"field":"x","type":"quantitative","scale":{"domain":[0,8000],"nice":false,"zero":false},"axis":{"orient":"top","title":null,"labels":false,"values":[0,1000,2000,3000,4000,5000,6000,7000,8000],"tickSize":{"condition":{"test":"datum.value % 2000 !== 0","value":2},"value":4}}},
   "y":{"field":"y","type":"quantitative","scale":{"domain":[-500,2500],"nice":false,"zero":false},"axis":{"orient":"right","title":null,"labels":false,"values":[-500,-250,0,250,500,750,1000,1250,1500,1750,2000,2250,2500],"tickSize":{"condition":{"test":"datum.value % 500 !== 0","value":2},"value":4}}},
   "text":{"field":"l"}}},
  {"data":{"name":"n"},"transform":[{"filter":"datum.p==='D'"}],"mark":{"type":"text","fontSize":14,"align":"left","color":"black"},
   "encoding":{"x":{"field":"x","type":"quantitative","axis":null},"y":{"field":"y","type":"quantitative","axis":null},"text":{"field":"l"}}}
 ]},
 {"width":245,"height":210,"resolve":{"axis":{"x":"independent","y":"independent"}},"layer":[
  {"data":{"name":"c"},"transform":[{"filter":"datum.p==='E'"}],"mark":{"type":"line","color":"#ff0000","strokeWidth":2.5,"interpolate":"linear","clip":true},
   "encoding":{"x":{"field":"x","type":"quantitative","scale":{"domain":[0,2000],"nice":false,"zero":false},"axis":{"orient":"bottom","title":"Z' [ohm.cm²]","titleFontSize":15.5,"titlePadding":2,"values":[0,200,400,600,800,1000,1200,1400,1600,1800,2000],"labelExpr":"datum.value % 400 === 0 ? datum.label : ''","tickSize":{"condition":{"test":"datum.value % 400 !== 0","value":2},"value":4}}},
   "y":{"field":"y","type":"quantitative","scale":{"domain":[-400,1000],"nice":false,"zero":false},"axis":{"orient":"left","title":"Z\" [ohm.cm²]","titleFontSize":16,"titlePadding":3,"values":[-400,-300,-200,-100,0,100,200,300,400,500,600,700,800,900,1000],"labelExpr":"datum.value % 200 === 0 ? datum.label : ''","tickSize":{"condition":{"test":"datum.value % 200 !== 0","value":2},"value":4}}},
   "detail":{"field":"s"},"order":{"value":null}}},
  {"data":{"name":"t"},"transform":[{"filter":"datum.p==='E'"}],"mark":{"type":"text","fontSize":11,"color":"black"},
   "encoding":{"x":{"field":"x","type":"quantitative","scale":{"domain":[0,2000],"nice":false,"zero":false},"axis":{"orient":"top","title":null,"labels":false,"values":[0,200,400,600,800,1000,1200,1400,1600,1800,2000],"tickSize":{"condition":{"test":"datum.value % 400 !== 0","value":2},"value":4}}},
   "y":{"field":"y","type":"quantitative","scale":{"domain":[-400,1000],"nice":false,"zero":false},"axis":{"orient":"right","title":null,"labels":false,"values":[-400,-300,-200,-100,0,100,200,300,400,500,600,700,800,900,1000],"tickSize":{"condition":{"test":"datum.value % 200 !== 0","value":2},"value":4}}},
   "text":{"field":"l"}}},
  {"data":{"name":"n"},"transform":[{"filter":"datum.p==='E'"}],"mark":{"type":"text","fontSize":14,"align":"left","color":"black"},
   "encoding":{"x":{"field":"x","type":"quantitative","axis":null},"y":{"field":"y","type":"quantitative","axis":null},"text":{"field":"l"}}}
 ]},
 {"width":245,"height":210,"resolve":{"axis":{"x":"independent","y":"independent"}},"layer":[
  {"data":{"name":"c"},"transform":[{"filter":"datum.p==='F'"}],"mark":{"type":"line","color":"#ff0000","strokeWidth":2.5,"interpolate":"linear","clip":true},
   "encoding":{"x":{"field":"x","type":"quantitative","scale":{"domain":[0,2000],"nice":false,"zero":false},"axis":{"orient":"bottom","title":"Z' [ohm.cm²]","titleFontSize":15.5,"titlePadding":2,"values":[0,200,400,600,800,1000,1200,1400,1600,1800,2000],"labelExpr":"datum.value % 400 === 0 ? datum.label : ''","tickSize":{"condition":{"test":"datum.value % 400 !== 0","value":2},"value":4}}},
   "y":{"field":"y","type":"quantitative","scale":{"domain":[-400,1000],"nice":false,"zero":false},"axis":{"orient":"left","title":null,"values":[-400,-300,-200,-100,0,100,200,300,400,500,600,700,800,900,1000],"labelExpr":"datum.value % 200 === 0 ? datum.label : ''","tickSize":{"condition":{"test":"datum.value % 200 !== 0","value":2},"value":4}}},
   "detail":{"field":"s"},"order":{"value":null}}},
  {"data":{"name":"t"},"transform":[{"filter":"datum.p==='F'"}],"mark":{"type":"text","fontSize":11,"color":"black"},
   "encoding":{"x":{"field":"x","type":"quantitative","scale":{"domain":[0,2000],"nice":false,"zero":false},"axis":{"orient":"top","title":null,"labels":false,"values":[0,200,400,600,800,1000,1200,1400,1600,1800,2000],"tickSize":{"condition":{"test":"datum.value % 400 !== 0","value":2},"value":4}}},
   "y":{"field":"y","type":"quantitative","scale":{"domain":[-400,1000],"nice":false,"zero":false},"axis":{"orient":"right","title":null,"labels":false,"values":[-400,-300,-200,-100,0,100,200,300,400,500,600,700,800,900,1000],"tickSize":{"condition":{"test":"datum.value % 200 !== 0","value":2},"value":4}}},
   "text":{"field":"l"}}},
  {"data":{"name":"n"},"transform":[{"filter":"datum.p==='F'"}],"mark":{"type":"text","fontSize":14,"align":"left","color":"black"},
   "encoding":{"x":{"field":"x","type":"quantitative","axis":null},"y":{"field":"y","type":"quantitative","axis":null},"text":{"field":"l"}}}
 ]}
]
}
